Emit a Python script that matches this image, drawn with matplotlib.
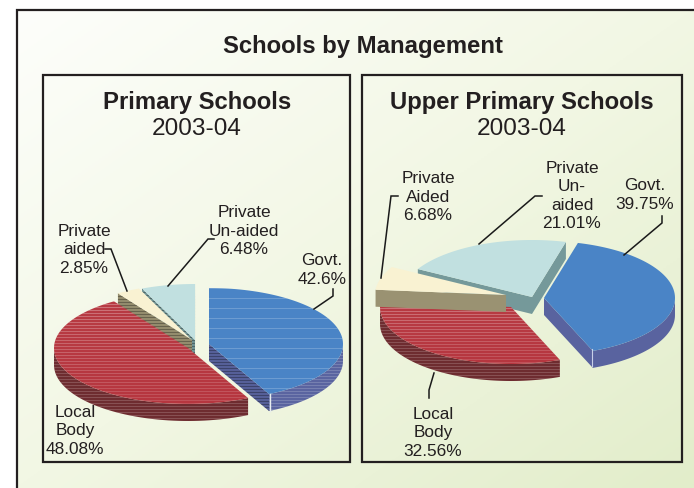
#!/usr/bin/env python
import numpy as np
import matplotlib
matplotlib.use('Agg')
import matplotlib.pyplot as plt
from matplotlib.patches import Polygon, Rectangle
from matplotlib.colors import LinearSegmentedColormap

plt.rcParams['font.family'] = ['Liberation Sans', 'DejaVu Sans']

# data ---------------------------------------------------------------------------------------------------
primary_names = ['Govt.', 'Local\nBody', 'Private\naided', 'Private\nUn-aided']
primary_values = [42.6, 48.08, 2.85, 6.48]
upper_names = ['Govt.', 'Local\nBody', 'Private\nAided', 'Private\nUn-\naided']
upper_values = [39.75, 32.56, 6.68, 21.01]

# colours: top, rim, cut face
blue = ('#4a84c6', '#59639f', '#59639f')
red = ('#b5333c', '#6d2a2e', '#6d2a2e')
cream = ('#f9f2d2', '#9a9272', '#9a9272')
teal = ('#c1e0e0', '#75999a', '#75999a')
wedge_colors = [blue, red, cream, teal]
text_color = '#231f20'


# helpers ------------------------------------------------------------------------------------------------
def point(apex, rx, ry, deg):
    t = np.radians(deg)   # clockwise from the top
    return apex[0] + rx*np.sin(t), apex[1] - ry*np.cos(t)


def add_stripes(ax, patch, y0, y1, step, color, a0, a1, lw):
    for y in np.arange(y0, y1, step):
        a = a0 + (a1-a0)*(y-y0)/(y1-y0)
        line, = ax.plot([0, 694], [y, y], color=color, alpha=a, lw=lw, zorder=patch.get_zorder())
        line.set_clip_path(patch)


def draw_wedge(ax, apex, rx, ry, depth, a0, a1, colors, z, stripes=None):
    top_col, rim_col, face_col = colors
    ang = np.linspace(a0, a1, 80)
    xs, ys = point(apex, rx, ry, ang)
    ax_x, ax_y = apex
    # cut faces
    for end, sign in ((a0, -1), (a1, 1)):
        px, py = point(apex, rx, ry, end)
        # only the faces that turn to the viewer are seen
        ny = np.sin(np.radians(end))*sign
        if ny > 0:
            f = Polygon([(ax_x, ax_y), (px, py), (px, py+depth), (ax_x, ax_y+depth)],
                        closed=True, fc=face_col, ec='none', zorder=z)
            ax.add_patch(f)
            if stripes:
                add_stripes(ax, f, min(py, ax_y), max(py, ax_y)+depth, 3, 'black', 0.32, 0.32, 0.9)
    # rim on the front half
    vis = np.cos(np.radians(ang)) < 0.02
    if vis.any():
        rx_, ry_ = xs[vis], ys[vis]
        r = Polygon(np.r_[np.c_[rx_, ry_], np.c_[rx_[::-1], ry_[::-1]+depth]],
                    closed=True, fc=rim_col, ec='none', zorder=z)
        ax.add_patch(r)
        if stripes:
            add_stripes(ax, r, ry_.min(), ry_.max()+depth, 3, 'white', 0.18, 0.18, 0.8)
    top = Polygon(np.r_[[apex], np.c_[xs, ys]], closed=True, fc=top_col, ec='none', zorder=z)
    ax.add_patch(top)
    if stripes:
        step, col, s0, s1, lw = stripes
        add_stripes(ax, top, ys.min(), max(ys.max(), ax_y)+1, step, col, s0, s1, lw)
    return top


def draw_pie(ax, values, start, apexes, rx, ry, depth, order, stripes):
    angles = start + np.r_[0, np.cumsum(values)]*3.6
    for i in order:
        draw_wedge(ax, apexes[i], rx, ry, depth, angles[i], angles[i+1], wedge_colors[i], 3+order.index(i), stripes[i])


def leader(ax, xs, ys):
    ax.plot(xs, ys, color='#1a1a1a', lw=1.1, zorder=20, solid_joinstyle='miter')


# figure -------------------------------------------------------------------------------------------------
fig = plt.figure(figsize=(6.94, 4.88), dpi=100)
ax = fig.add_axes([0, 0, 1, 1])
ax.set_xlim(0, 694)
ax.set_ylim(488, 0)
ax.axis('off')

# background gradient inside the frame
cmap = LinearSegmentedColormap.from_list('bg', ['#fdfefb', '#f2f7e4', '#e2edca'])
gx, gy = np.meshgrid(np.linspace(0, 1, 200), np.linspace(0, 1, 200))
ax.imshow((gx+gy)/2, cmap=cmap, extent=(17, 694, 488, 10), aspect='auto', zorder=0, vmin=0, vmax=1)
ax.set_xlim(0, 694)
ax.set_ylim(488, 0)
ax.plot([17, 17, 694], [488, 10, 10], color='#231f20', lw=1.6, zorder=1, solid_joinstyle='miter')
for x0, x1 in ((43, 350), (362, 682)):
    ax.add_patch(Rectangle((x0, 75), x1-x0, 387, fc='none', ec='#231f20', lw=1.6, zorder=2))

# primary pie
p_apex = [(209, 344), (188, 348), (192, 340), (195, 340)]
p_stripes = [(10, 'white', 0.2, 0.2, 0.7),
             (3, 'white', 0.32, 0.14, 0.9),
             (3, 'white', 0.0, 0.0, 0.8),
             (3, 'white', 0.0, 0.0, 0.8)]
draw_pie(ax, primary_values, 0, p_apex, 134, 56, 17, [3, 2, 0, 1], p_stripes)
# upper primary pie
u_apex = [(544, 298), (511, 307), (506, 295), (532, 297)]
u_stripes = [None, (3, 'white', 0.32, 0.14, 0.9), None, None]
draw_pie(ax, upper_values, 15, u_apex, 131, 57, 17, [3, 1, 2, 0], u_stripes)

# light corner on the blue slices
ax.plot([270, 270], [394, 411], color='#e8eef0', lw=1, zorder=12)
ax.plot([592, 592], [349, 366], color='#c8d0e8', lw=0.8, zorder=12)

# leaders
leader(ax, [105, 111, 127], [249, 249, 291])
leader(ax, [214, 208, 168], [239, 239, 286])
leader(ax, [333, 333, 314], [289, 296, 309])
leader(ax, [398, 391, 381], [196, 196, 278])
leader(ax, [542, 535, 479], [196, 196, 244])
leader(ax, [662, 662, 624], [216, 223, 255])
leader(ax, [434, 429, 429], [373, 390, 398])

# text
def title(x, y, s, weight='bold', size=17.2):
    ax.text(x, y, s, ha='center', va='center', fontsize=size, fontweight=weight, color=text_color, zorder=30)


title(363, 46, 'Schools by Management')
title(197, 102, 'Primary Schools')
title(197, 129, '2003-04', weight='normal', size=17.6)
title(522, 102, 'Upper Primary Schools')
title(522, 129, '2003-04', weight='normal', size=17.6)

p_pos = [(322, 270), (75, 431), (84, 250), (244, 231)]
u_pos = [(645, 195), (433, 433), (428, 197), (572, 196)]
for names, values, pos in ((primary_names, primary_values, p_pos), (upper_names, upper_values, u_pos)):
    for n, v, (x, y) in zip(names, values, pos):
        ax.text(x, y, '{}\n{:g}%'.format(n, v), ha='center', va='center', fontsize=12.4,
                color=text_color, zorder=30, linespacing=1.3)

fig.savefig('out.png', dpi=100)
